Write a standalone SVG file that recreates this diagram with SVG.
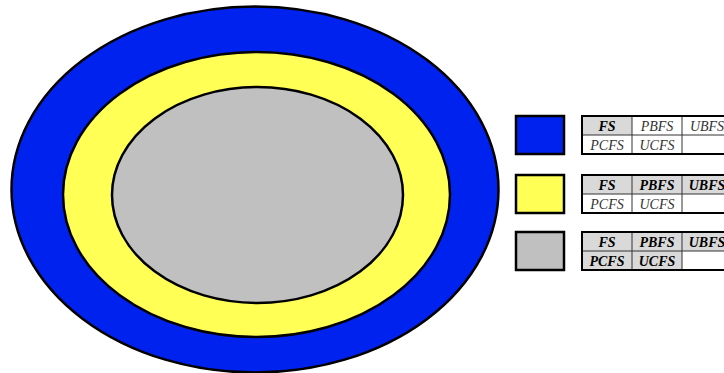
<svg xmlns="http://www.w3.org/2000/svg" width="724" height="373" viewBox="0 0 724 373">
<style>
.e{stroke:#000;stroke-width:2.5}
.sw{stroke:#000;stroke-width:2.5}
.tb{fill:none;stroke:#000;stroke-width:2}
.ln{stroke:#333;stroke-width:1}
.sh{fill:#d9d9d9}
.t{font-family:"Liberation Serif",serif;font-style:italic;font-size:14px;text-anchor:middle;fill:#333}
.b{font-weight:bold;fill:#000}
</style>
<g id="outer"><ellipse class="e" cx="255" cy="189.5" rx="243.5" ry="183" fill="#0022ee"/></g>
<g id="middle"><ellipse class="e" cx="256.5" cy="194.5" rx="193.5" ry="142.5" fill="#ffff55"/></g>
<g id="inner"><ellipse class="e" cx="257.5" cy="195" rx="145.5" ry="108" fill="#c0c0c0"/></g>
<g id="legend1">
<rect class="sw" x="516" y="116" width="48" height="38" fill="#0022ee"/>
<rect class="sh" x="582" y="116" width="50" height="19"/>
<line class="ln" x1="582" y1="135" x2="724" y2="135"/>
<line class="ln" x1="632" y1="116" x2="632" y2="154"/>
<line class="ln" x1="682" y1="116" x2="682" y2="154"/>
<rect class="tb" x="582" y="116" width="150" height="38"/>
<text class="t b" x="607" y="130.5">FS</text>
<text class="t" x="657" y="130.5">PBFS</text>
<text class="t" x="707" y="130.5">UBFS</text>
<text class="t" x="607" y="149.5">PCFS</text>
<text class="t" x="657" y="149.5">UCFS</text>
</g>
<g id="legend2">
<rect class="sw" x="516" y="175" width="48" height="38" fill="#ffff55"/>
<rect class="sh" x="582" y="175" width="150" height="19"/>
<line class="ln" x1="582" y1="194" x2="724" y2="194"/>
<line class="ln" x1="632" y1="175" x2="632" y2="213"/>
<line class="ln" x1="682" y1="175" x2="682" y2="213"/>
<rect class="tb" x="582" y="175" width="150" height="38"/>
<text class="t b" x="607" y="189.5">FS</text>
<text class="t b" x="657" y="189.5">PBFS</text>
<text class="t b" x="707" y="189.5">UBFS</text>
<text class="t" x="607" y="208.5">PCFS</text>
<text class="t" x="657" y="208.5">UCFS</text>
</g>
<g id="legend3">
<rect class="sw" x="516" y="232" width="48" height="38" fill="#c0c0c0"/>
<rect class="sh" x="582" y="232" width="150" height="19"/>
<rect class="sh" x="582" y="251" width="100" height="19"/>
<line class="ln" x1="582" y1="251" x2="724" y2="251"/>
<line class="ln" x1="632" y1="232" x2="632" y2="270"/>
<line class="ln" x1="682" y1="232" x2="682" y2="270"/>
<rect class="tb" x="582" y="232" width="150" height="38"/>
<text class="t b" x="607" y="246.5">FS</text>
<text class="t b" x="657" y="246.5">PBFS</text>
<text class="t b" x="707" y="246.5">UBFS</text>
<text class="t b" x="607" y="265.5">PCFS</text>
<text class="t b" x="657" y="265.5">UCFS</text>
</g>
<g id="connectors"></g>
</svg>
